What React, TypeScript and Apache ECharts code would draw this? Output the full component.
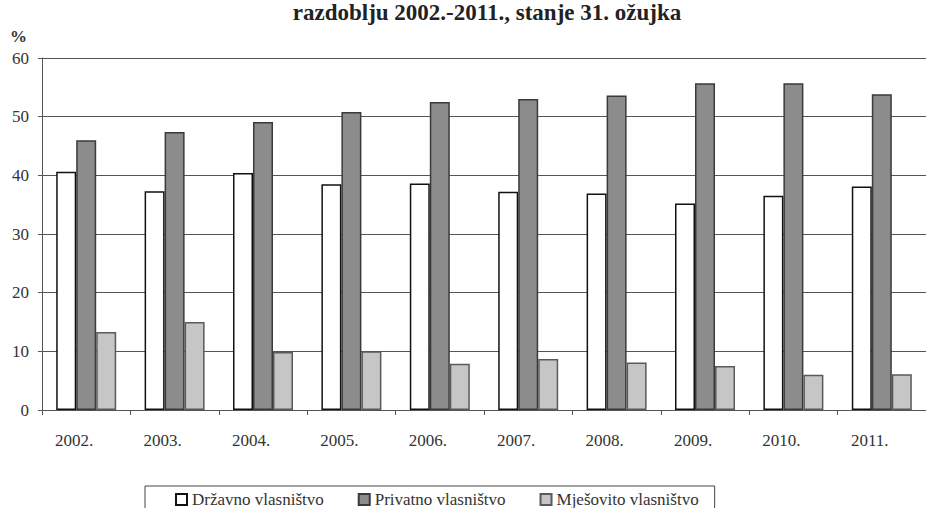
import React, { useEffect, useRef } from "react";
import * as echarts from "echarts";

const years = ["2002.", "2003.", "2004.", "2005.", "2006.", "2007.", "2008.", "2009.", "2010.", "2011."];
const drzavno = [40.6, 37.3, 40.4, 38.5, 38.6, 37.2, 36.9, 35.2, 36.5, 38.1];
const privatno = [46.0, 47.4, 49.1, 50.8, 52.5, 53.0, 53.6, 55.7, 55.7, 53.8];
const mjesovito = [13.3, 15.0, 9.9, 10.0, 7.9, 8.7, 8.1, 7.5, 6.0, 6.1];
const seriesNames = ["Državno vlasništvo", "Privatno vlasništvo", "Mješovito vlasništvo"];
const titleText = "razdoblju 2002.-2011., stanje 31. ožujka";

const serif = "Liberation Serif";

export default function App() {
  const ref = useRef<HTMLDivElement>(null);
  useEffect(() => {
    if (!ref.current) return;
    const chart = echarts.init(ref.current, null, { renderer: "svg" });
    chart.setOption({
      animation: false,
      backgroundColor: "#ffffff",
      title: {
        text: titleText,
        left: 487,
        textAlign: "center",
        top: 1,
        padding: 0,
        textStyle: { fontFamily: serif, fontWeight: "bold", fontSize: 23, color: "#222", lineHeight: 23 },
      },
      graphic: [
        {
          type: "text",
          left: 10,
          top: 28,
          style: { text: "%", fontFamily: serif, fontWeight: "bold", fontSize: 17, fill: "#333" },
        },
      ],
      legend: {
        left: 145,
        top: 486,
        padding: [5, 16, 10, 30],
        borderColor: "#444",
        borderWidth: 1,
        borderRadius: 0,
        itemGap: 34,
        itemWidth: 11,
        itemHeight: 11,
        icon: "rect",
        textStyle: { fontFamily: serif, fontSize: 17, color: "#333" },
        data: seriesNames,
      },
      grid: { left: 42, right: 0, top: 58, bottom: 98 },
      xAxis: {
        type: "category",
        data: years,
        axisLine: { show: true, lineStyle: { color: "#555", width: 1 } },
        axisTick: { show: true, length: 5, lineStyle: { color: "#555" } },
        axisLabel: { fontFamily: serif, fontSize: 17, color: "#333", margin: 22, padding: [0, 24, 0, 0] },
      },
      yAxis: {
        type: "value",
        min: 0,
        max: 60,
        interval: 10,
        axisLine: { show: true, lineStyle: { color: "#555", width: 1 } },
        axisTick: { show: true, length: 4, lineStyle: { color: "#555" } },
        axisLabel: { fontFamily: serif, fontSize: 17, color: "#333", margin: 13 },
        splitLine: { lineStyle: { color: "#555", width: 1 } },
      },
      series: [
        {
          name: seriesNames[0],
          type: "bar",
          data: drzavno,
          barWidth: 20,
          barGap: "0%",
          itemStyle: { color: "#ffffff", borderColor: "#111", borderWidth: 1.5 },
        },
        {
          name: seriesNames[1],
          type: "bar",
          data: privatno,
          barWidth: 20,
          barGap: "0%",
          itemStyle: { color: "#8c8c8c", borderColor: "#3a3a3a", borderWidth: 1.5 },
        },
        {
          name: seriesNames[2],
          type: "bar",
          data: mjesovito,
          barWidth: 20,
          barGap: "0%",
          itemStyle: { color: "#c6c6c6", borderColor: "#5a5a5a", borderWidth: 1.5 },
        },
      ],
    });
    return () => chart.dispose();
  }, []);
  return <div ref={ref} style={{ width: 926, height: 508, position: "absolute", left: 0, top: 0 }} />;
}
